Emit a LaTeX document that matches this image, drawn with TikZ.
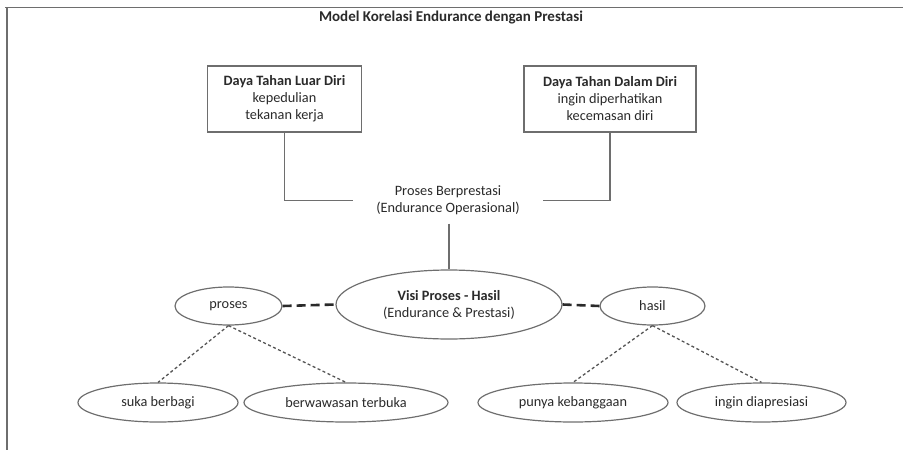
\documentclass[tikz,border=0pt]{standalone}
\usepackage{fontspec}
\setmainfont{Carlito}
\usetikzlibrary{shapes.geometric}
\definecolor{edge}{HTML}{6E6E6E}
\definecolor{ink}{HTML}{2A2A2A}
\tikzset{
  every node/.style={text=ink, font=\fontsize{14.3}{17}\selectfont, align=center},
  box/.style={draw=edge, line width=1.3pt, inner sep=0pt},
  oval/.style={draw=edge, line width=1.2pt, ellipse, inner sep=0pt},
  link/.style={draw=edge, line width=1.2pt},
  strong/.style={draw=ink, line width=2.6pt, dash pattern=on 9pt off 5pt},
  dots/.style={draw=ink!80, line width=1.3pt, dash pattern=on 3pt off 2.5pt},
}
\begin{document}
\begin{tikzpicture}[x=1pt, y=-1pt]
\useasboundingbox (0,0) rectangle (903,450);
% frame edges
\draw[edge, line width=1.6pt] (5,7.5) -- (903,7.5);
\draw[edge, line width=1.6pt] (7,7.5) -- (7,450);

\node[font=\fontsize{15}{17}\selectfont\bfseries] (title) at (451,18) {Model Korelasi Endurance dengan Prestasi};

% the two endurance boxes
\node[box, minimum width=154pt, minimum height=66pt] (luar) at (284.5,99)
  {\textbf{Daya Tahan Luar Diri}\\kepedulian\\tekanan kerja};
\node[box, minimum width=172pt, minimum height=66pt] (dalam) at (610,99)
  {\textbf{Daya Tahan Dalam Diri}\\ingin diperhatikan\\kecemasan diri};

% operational process label
\node[inner sep=0pt, minimum width=190pt, minimum height=46pt] (proses0) at (448,200.5)
  {Proses Berprestasi\\(Endurance Operasional)};

% central vision oval and its two sides
\node[oval, minimum width=226pt, minimum height=69pt] (visi) at (449,304.5)
  {\textbf{Visi Proses - Hasil}\\(Endurance \& Prestasi)};
\node[oval, minimum width=107pt, minimum height=38pt] (proses) at (228.5,306) {proses};
\node[oval, minimum width=105pt, minimum height=38pt] (hasil) at (652.5,306) {hasil};

% leaves
\node[oval, minimum width=160pt, minimum height=39pt] (suka) at (158,402.5) {suka berbagi};
\node[oval, minimum width=204pt, minimum height=39pt] (wawasan) at (346,402.5) {berwawasan terbuka};
\node[oval, minimum width=190pt, minimum height=39pt] (bangga) at (573,402.5) {punya kebanggaan};
\node[oval, minimum width=169pt, minimum height=39pt] (apresiasi) at (761.5,402.5) {ingin diapresiasi};

% connectors
\draw[link] (luar.south) |- (proses0.west);
\draw[link] (dalam.south) |- (proses0.east);
\draw[link] (visi.north |- proses0.south) -- (visi.north);
\draw[strong] (proses.east) -- (visi.west);
\draw[strong] (visi.east) -- (hasil.west);
\draw[dots] (proses.south) -- (suka.north);
\draw[dots] (proses.south) -- (wawasan.north);
\draw[dots] (hasil.south) -- (bangga.north);
\draw[dots] (hasil.south) -- (apresiasi.north);
\end{tikzpicture}
\end{document}
